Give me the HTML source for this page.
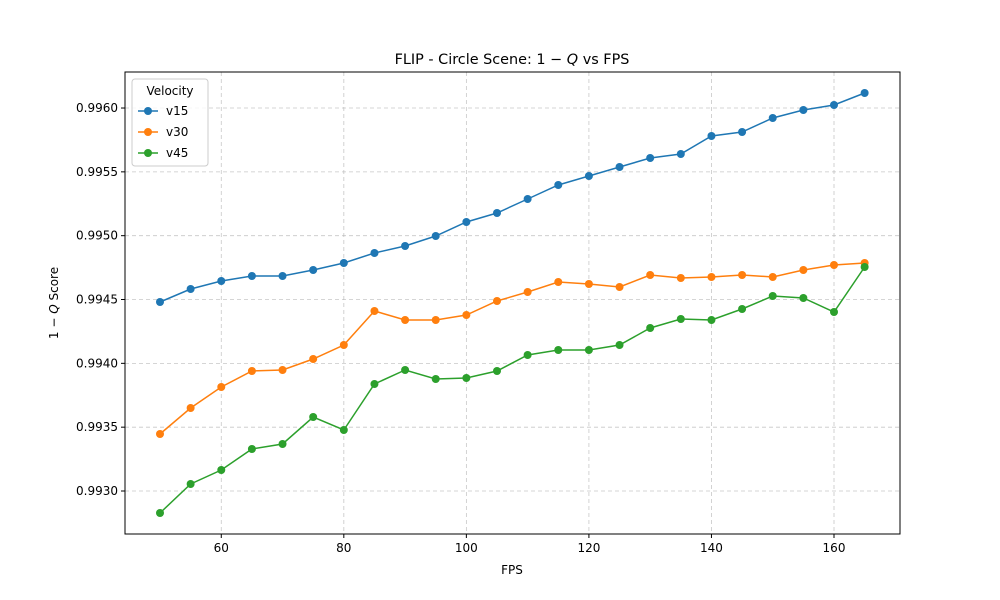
<!DOCTYPE html>
<html><head><meta charset="utf-8"><style>
body{margin:0;background:#fff}
svg{font-family:"DejaVu Sans","Liberation Sans",sans-serif;display:block}
</style></head><body>
<svg id="s" width="1000" height="600" xmlns="http://www.w3.org/2000/svg">
<rect width="1000" height="600" fill="#fff"/>
<g id="grid"></g>
<g id="series"></g>
<rect x="125" y="72" width="775" height="462" fill="none" stroke="#000" stroke-width="1"/>
<g id="ticks" font-size="12" fill="#000"></g>
<text x="512" y="64" font-size="14.4" text-anchor="middle">FLIP - Circle Scene: 1 − <tspan font-style="italic">Q</tspan> vs FPS</text>
<text x="512" y="574" font-size="12" text-anchor="middle">FPS</text>
<text transform="translate(58,303) rotate(-90)" font-size="12" text-anchor="middle">1 − <tspan font-style="italic">Q</tspan> Score</text>
<g>
<rect x="132" y="79" width="76" height="87" rx="3" fill="#fff" fill-opacity="0.8" stroke="#ccc"/>
<text x="170" y="95" font-size="12" text-anchor="middle">Velocity</text>
<line x1="138" y1="111" x2="158" y2="111" stroke="#1f77b4" stroke-width="1.5"/><circle cx="148" cy="111" r="4" fill="#1f77b4"/><text x="166" y="115" font-size="12">v15</text>
<line x1="138" y1="132" x2="158" y2="132" stroke="#ff7f0e" stroke-width="1.5"/><circle cx="148" cy="132" r="4" fill="#ff7f0e"/><text x="166" y="136" font-size="12">v30</text>
<line x1="138" y1="153" x2="158" y2="153" stroke="#2ca02c" stroke-width="1.5"/><circle cx="148" cy="153" r="4" fill="#2ca02c"/><text x="166" y="157" font-size="12">v45</text>
</g>
</svg>
<script>
var ns="http://www.w3.org/2000/svg";
function el(p,t,a,txt){var e=document.createElementNS(ns,t);for(var k in a)e.setAttribute(k,a[k]);if(txt)e.textContent=txt;document.getElementById(p).appendChild(e);return e;}
function X(v){return 160+(v-50)*6.1273;}
for(var v=60;v<=160;v+=20){var x=X(v);el("grid","line",{x1:x,x2:x,y1:72,y2:534,stroke:"#b0b0b0","stroke-dasharray":"4,3","stroke-width":0.8,opacity:0.7});el("ticks","line",{x1:x,x2:x,y1:534,y2:538,stroke:"#000"});el("ticks","text",{x:x,y:552,"text-anchor":"middle"},String(v));}
var yl=["0.9930","0.9935","0.9940","0.9945","0.9950","0.9955","0.9960"];
for(var i=0;i<7;i++){var y=491-i*63.83;el("grid","line",{x1:125,x2:900,y1:y,y2:y,stroke:"#b0b0b0","stroke-dasharray":"4,3","stroke-width":0.8,opacity:0.7});el("ticks","line",{x1:121,x2:125,y1:y,y2:y,stroke:"#000"});el("ticks","text",{x:118,y:y+4,"text-anchor":"end"},yl[i]);}
var d={"#1f77b4":[302,289,281,276,276,270,263,253,246,236,222,213,199,185,176,167,158,154,136,132,118,110,105,93],
"#ff7f0e":[434,408,387,371,370,359,345,311,320,320,315,301,292,282,284,287,275,278,277,275,277,270,265,263],
"#2ca02c":[513,484,470,449,444,417,430,384,370,379,378,371,355,350,350,345,328,319,320,309,296,298,312,267]};
for(var c in d){var pts=d[c].map(function(y,i){return X(50+5*i)+","+y;});el("series","polyline",{points:pts.join(" "),fill:"none",stroke:c,"stroke-width":1.5});d[c].forEach(function(y,i){el("series","circle",{cx:X(50+5*i),cy:y,r:4,fill:c});});}
</script>
</body></html>
